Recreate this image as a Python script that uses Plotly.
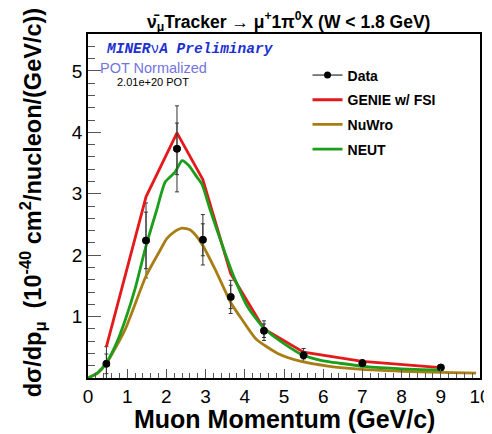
import plotly.graph_objects as go

# ---- data ----
data_x = [0.47, 1.48, 2.27, 2.93, 3.64, 4.49, 5.5, 7.0, 9.0]
data_y = [0.23, 2.24, 3.73, 2.25, 1.32, 0.77, 0.37, 0.24, 0.17]
data_err_tot = [0.28, 0.61, 0.70, 0.41, 0.27, 0.16, 0.11, 0.06, 0.04]
data_err_stat = [0.16, 0.46, 0.42, 0.26, 0.19, 0.11, 0.06, 0.04, 0.03]

genie_x = [0.47, 1.48, 2.27, 2.93, 3.64, 4.49, 5.5, 7.0, 9.0]
genie_y = [0.51, 2.95, 3.99, 3.23, 1.70, 0.80, 0.42, 0.27, 0.17]

neut_x = [0.0, 0.25, 0.47, 0.75, 0.98, 1.2, 1.48, 1.75, 1.97, 2.22, 2.4, 2.57,
          2.78, 2.91, 3.12, 3.47, 3.72, 4.07, 4.49, 5.0, 5.49, 6.0, 6.42, 7.04,
          8.0, 9.03]
neut_y = [0.0, 0.09, 0.25, 0.6, 1.0, 1.45, 2.15, 2.73, 3.19, 3.35, 3.54, 3.46,
          3.27, 3.15, 2.73, 2.08, 1.65, 1.16, 0.81, 0.56, 0.37, 0.28, 0.24, 0.19,
          0.15, 0.13]

nuwro_x = [0.0, 0.25, 0.47, 0.94, 1.48, 1.84, 2.01, 2.2, 2.4, 2.61, 2.87, 3.25,
           3.64, 3.92, 4.28, 4.84, 5.44, 6.12, 7.0, 8.0, 9.0, 9.9]
nuwro_y = [0.0, 0.08, 0.24, 0.78, 1.66, 2.08, 2.27, 2.38, 2.44, 2.41, 2.22, 1.76,
           1.23, 0.96, 0.64, 0.40, 0.27, 0.195, 0.14, 0.11, 0.09, 0.08]

x_ticks = [0, 1, 2, 3, 4, 5, 6, 7, 8, 9, 10]
y_ticks = [1, 2, 3, 4, 5]

RED = "#e4191c"
GREEN = "#1b9e1b"
BROWN = "#a87d14"
FONT = "Liberation Sans, Arial, sans-serif"

fig = go.Figure()

# legend-only entry for the data (line + dot symbol, as in the reference)
fig.add_trace(go.Scatter(
    x=[None], y=[None], mode="lines+markers", name="<b>Data</b>", legendgroup="a",
    line=dict(color="black", width=1), marker=dict(color="black", size=7),
))
fig.add_trace(go.Scatter(
    x=data_x, y=data_y, mode="markers", name="Data", legendgroup="a", showlegend=False,
    marker=dict(color="black", size=7.5),
    error_y=dict(type="data", array=data_err_tot, color="#333333", thickness=1, width=2),
))
fig.add_trace(go.Scatter(
    x=genie_x, y=genie_y, mode="lines", name="<b>GENIE w/ FSI</b>", legendgroup="b",
    line=dict(color=RED, width=2.8),
))
fig.add_trace(go.Scatter(
    x=nuwro_x, y=nuwro_y, mode="lines", name="<b>NuWro</b>", legendgroup="c",
    line=dict(color=BROWN, width=2.8, shape="spline", smoothing=0.6),
))
fig.add_trace(go.Scatter(
    x=neut_x, y=neut_y, mode="lines", name="<b>NEUT</b>", legendgroup="d",
    line=dict(color=GREEN, width=2.8, shape="spline", smoothing=0.6),
))
# inner (statistical) error bars on top
fig.add_trace(go.Scatter(
    x=data_x, y=data_y, mode="markers", showlegend=False, legendgroup="a",
    marker=dict(color="black", size=7.5),
    error_y=dict(type="data", array=data_err_stat, color="#333333", thickness=1, width=2),
))

# page has an 8px body margin, so the figure is 484x426 placed at (8, 8)
fig.update_layout(
    width=484, height=426,
    margin=dict(l=80, r=12, t=26, b=56),
    paper_bgcolor="white", plot_bgcolor="white",
    font=dict(family=FONT, color="black"),
    title=dict(
        text="<b>ν̄<sub>μ</sub>Tracker → μ<sup>+</sup>1π<sup>0</sup>X (W &lt; 1.8 GeV)</b>",
        x=0.58, xanchor="center", y=0.968, yanchor="middle",
        font=dict(size=17.5),
    ),
    showlegend=True,
    legend=dict(
        x=0.56, y=0.926, xanchor="left", yanchor="top",
        font=dict(size=14, family=FONT),
        bgcolor="rgba(0,0,0,0)", tracegroupgap=3.5, traceorder="grouped",
        itemwidth=30,
    ),
    xaxis=dict(
        range=[0, 10], tickvals=x_ticks, ticktext=[str(v) for v in x_ticks],
        ticks="inside", ticklen=9, tickcolor="#555555", tickwidth=1,
        showline=True, linecolor="black", linewidth=1.5, mirror=True,
        showgrid=False, zeroline=False, automargin=False,
        tickfont=dict(size=19),
        minor=dict(dtick=0.2, ticks="inside", ticklen=5, tickcolor="#555555", showgrid=False),
    ),
    yaxis=dict(
        range=[0, 5.6], tickvals=y_ticks, ticktext=[str(v) for v in y_ticks],
        ticks="inside", ticklen=13, tickcolor="#555555", tickwidth=1,
        showline=True, linecolor="black", linewidth=1.5, mirror=True,
        showgrid=False, zeroline=False, automargin=False,
        tickfont=dict(size=19),
        minor=dict(dtick=0.2, ticks="inside", ticklen=7, tickcolor="#555555", showgrid=False),
    ),
    annotations=[
        dict(text="<b>Muon Momentum (GeV/c)</b>", xref="paper", yref="paper",
             x=0.5, y=-0.118, xanchor="center", yanchor="middle", showarrow=False,
             font=dict(size=25)),
        dict(text="<b>dσ/dp<sub>μ</sub>  (10<sup>-40</sup> cm<sup>2</sup>/nucleon/(GeV/c))</b>",
             xref="paper", yref="paper", x=-0.141, y=0.51, xanchor="center", yanchor="middle",
             textangle=-90, showarrow=False, font=dict(size=23.5)),
        dict(text="<b><i>MINER</i></b>ν<b><i>A Preliminary</i></b>", xref="paper", yref="paper",
             x=0.04, y=0.955, xanchor="left", yanchor="middle", showarrow=False,
             font=dict(family="Liberation Mono, Courier New, monospace", size=14.5, color="#2030d0")),
        dict(text="POT Normalized", xref="paper", yref="paper",
             x=0.025, y=0.902, xanchor="left", yanchor="middle", showarrow=False,
             font=dict(size=14.5, color="#7474dc")),
        dict(text="2.01e+20 POT", xref="paper", yref="paper",
             x=0.068, y=0.86, xanchor="left", yanchor="middle", showarrow=False,
             font=dict(size=11, color="black")),
    ],
)

fig.write_html("out.html")
